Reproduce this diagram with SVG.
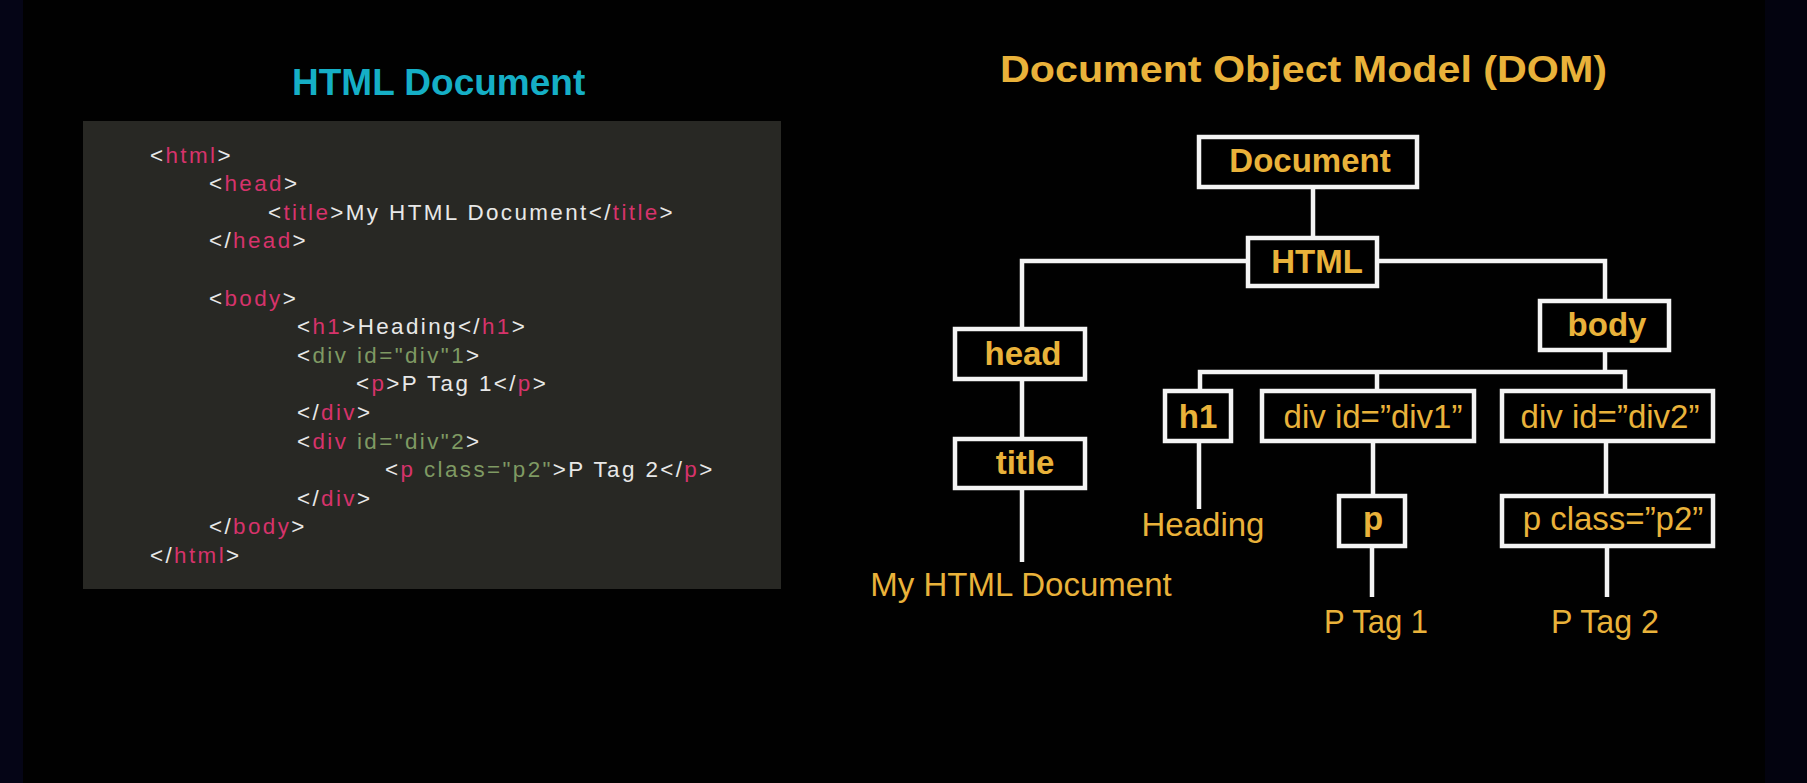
<svg xmlns="http://www.w3.org/2000/svg" width="1807" height="783" viewBox="0 0 1807 783">
  <style>
    .code { font-family: "Liberation Sans", Arial, sans-serif; font-size: 22.4px; letter-spacing: 2.4px; fill: #e8e8e8; }
    .tag { fill: #d6336b; }
    .attr { fill: #7f9a63; }
    .box { fill: #000000; stroke: #f4f4f4; stroke-width: 4.5; }
    .lbl { font-family: "Liberation Sans", Arial, sans-serif; font-size: 33px; font-weight: bold; fill: #e9b23a; text-anchor: middle; }
    .val { font-family: "Liberation Sans", Arial, sans-serif; font-size: 33px; fill: #e9b23a; text-anchor: middle; }
    .wire { fill: none; stroke: #f4f4f4; stroke-width: 4.5; }
  </style>

  <!-- backdrop -->
  <rect x="0" y="0" width="1807" height="783" fill="#010101"/>
  <rect x="0" y="0" width="23" height="783" fill="#050516"/>
  <rect x="1765" y="0" width="42" height="783" fill="#03030f"/>

  <!-- left: source listing -->
  <g id="html-source">
    <text x="292" y="95" font-family="Liberation Sans, Arial, sans-serif" font-size="37" font-weight="bold" fill="#15afc6">HTML Document</text>
    <rect x="83" y="121" width="698" height="468" fill="#282824"/>
    <text class="code" x="150" y="162.5">&lt;<tspan class="tag">html</tspan>&gt;</text>
    <text class="code" x="209" y="191.1">&lt;<tspan class="tag">head</tspan>&gt;</text>
    <text class="code" x="268" y="219.7">&lt;<tspan class="tag">title</tspan>&gt;My HTML Document&lt;/<tspan class="tag">title</tspan>&gt;</text>
    <text class="code" x="209" y="248.3">&lt;/<tspan class="tag">head</tspan>&gt;</text>
    <text class="code" x="209" y="305.5">&lt;<tspan class="tag">body</tspan>&gt;</text>
    <text class="code" x="297" y="334.1">&lt;<tspan class="tag">h1</tspan>&gt;Heading&lt;/<tspan class="tag">h1</tspan>&gt;</text>
    <text class="code" x="297" y="362.7">&lt;<tspan class="attr">div id="div"1</tspan>&gt;</text>
    <text class="code" x="356" y="391.3">&lt;<tspan class="tag">p</tspan>&gt;P Tag 1&lt;/<tspan class="tag">p</tspan>&gt;</text>
    <text class="code" x="297" y="419.9">&lt;/<tspan class="tag">div</tspan>&gt;</text>
    <text class="code" x="297" y="448.5">&lt;<tspan class="tag">div</tspan><tspan class="attr"> id="div"2</tspan>&gt;</text>
    <text class="code" x="385" y="477.1">&lt;<tspan class="tag">p</tspan><tspan class="attr"> class="p2"</tspan>&gt;P Tag 2&lt;/<tspan class="tag">p</tspan>&gt;</text>
    <text class="code" x="297" y="505.7">&lt;/<tspan class="tag">div</tspan>&gt;</text>
    <text class="code" x="209" y="534.3">&lt;/<tspan class="tag">body</tspan>&gt;</text>
    <text class="code" x="150" y="562.9">&lt;/<tspan class="tag">html</tspan>&gt;</text>
  </g>

  <!-- right: tree heading -->
  <text x="1000" y="82" font-family="Liberation Sans, Arial, sans-serif" font-size="37" font-weight="bold" fill="#e9b23a" textLength="607" lengthAdjust="spacingAndGlyphs">Document Object Model (DOM)</text>

  <!-- tree edges -->
  <g id="connectors">
    <path class="wire" d="M1313 189 V236"/>
    <path class="wire" d="M1246 261 H1022 V327"/>
    <path class="wire" d="M1379 261 H1605 V299"/>
    <path class="wire" d="M1022 381 V437"/>
    <path class="wire" d="M1022 490 V562"/>
    <path class="wire" d="M1605 352 V372"/>
    <path class="wire" d="M1200 389 V372 H1625 V389"/>
    <path class="wire" d="M1377 372 V389"/>
    <path class="wire" d="M1199 443 V509"/>
    <path class="wire" d="M1373 443 V494"/>
    <path class="wire" d="M1372 548 V597"/>
    <path class="wire" d="M1606 443 V494"/>
    <path class="wire" d="M1607 548 V597"/>
  </g>

  <!-- tree nodes -->
  <g id="node-document">
    <rect class="box" x="1199" y="137" width="218" height="50"/>
    <text class="lbl" x="1310" y="172">Document</text>
  </g>
  <g id="node-html">
    <rect class="box" x="1248" y="238" width="129" height="48"/>
    <text class="lbl" x="1317" y="273">HTML</text>
  </g>
  <g id="node-head">
    <rect class="box" x="955" y="329" width="130" height="50"/>
    <text class="lbl" x="1023" y="365">head</text>
  </g>
  <g id="node-title">
    <rect class="box" x="955" y="439" width="130" height="49"/>
    <text class="lbl" x="1025" y="474">title</text>
  </g>
  <g id="node-title-text">
    <text class="val" x="1021" y="596">My HTML Document</text>
  </g>
  <g id="node-body">
    <rect class="box" x="1540" y="301" width="129" height="49"/>
    <text class="lbl" x="1607" y="336">body</text>
  </g>
  <g id="node-h1">
    <rect class="box" x="1165" y="391" width="66" height="50"/>
    <text class="lbl" x="1198" y="428">h1</text>
  </g>
  <g id="node-h1-text">
    <text class="val" x="1203" y="536">Heading</text>
  </g>
  <g id="node-div1">
    <rect class="box" x="1262" y="391" width="212" height="50"/>
    <text class="val" x="1373" y="428">div id=”div1”</text>
  </g>
  <g id="node-p1">
    <rect class="box" x="1339" y="496" width="66" height="50"/>
    <text class="lbl" x="1373" y="530">p</text>
  </g>
  <g id="node-p1-text">
    <text class="val" x="1376" y="633" textLength="104" lengthAdjust="spacingAndGlyphs">P Tag 1</text>
  </g>
  <g id="node-div2">
    <rect class="box" x="1502" y="391" width="211" height="50"/>
    <text class="val" x="1610" y="428">div id=”div2”</text>
  </g>
  <g id="node-p2">
    <rect class="box" x="1502" y="496" width="211" height="50"/>
    <text class="val" x="1613" y="530">p class=”p2”</text>
  </g>
  <g id="node-p2-text">
    <text class="val" x="1605" y="633" textLength="108" lengthAdjust="spacingAndGlyphs">P Tag 2</text>
  </g>
</svg>
